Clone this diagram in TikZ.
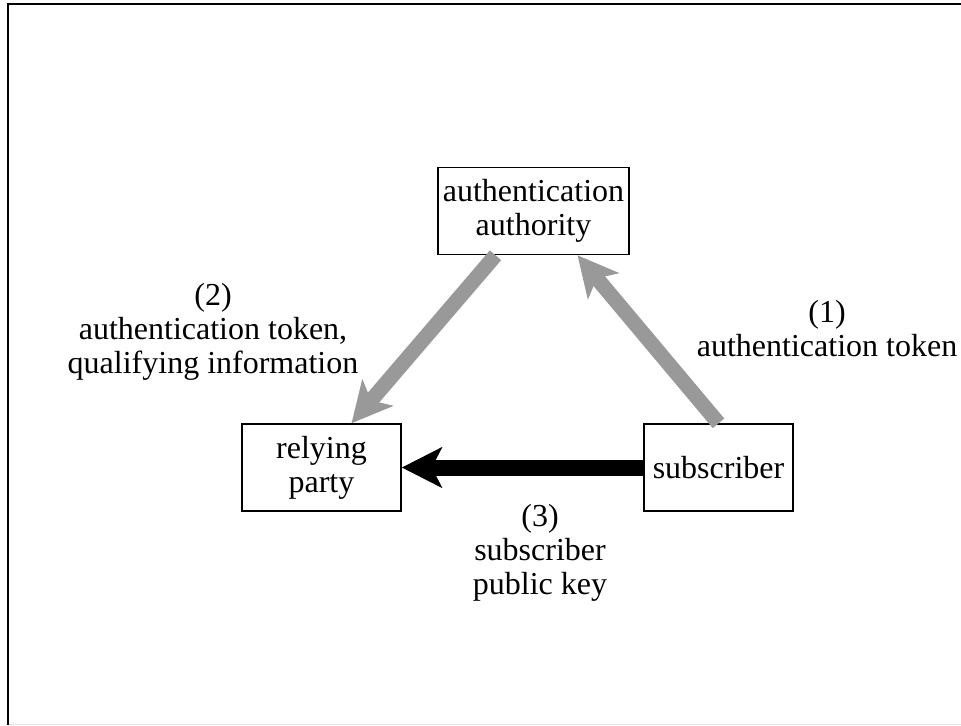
\documentclass[tikz,border=0pt]{standalone}
\usepackage{fontspec}
\setmainfont{Liberation Serif}
\usetikzlibrary{arrows.meta}
\begin{document}
\begin{tikzpicture}[x=0.5pt,y=-0.5pt,
        every node/.style={font=\fontsize{16}{17}\selectfont,align=center},
        party/.style={draw,line width=0.75pt,inner sep=0pt,minimum height=43.5pt},
        flow/.style={line width=7.5pt,draw=black!40,-{Stealth[length=20pt,width=20pt,inset=5pt]}},
        keyflow/.style={line width=8pt,draw=black,-{Stealth[length=20pt,width=20pt,inset=5pt]}}]
                \useasboundingbox (0,0) rectangle (961,725);
                \coordinate (TL) at (8,4);
                \coordinate (TR) at (961,4);
                \coordinate (BL) at (8,725);
                \coordinate (BA) at (8,724);
                \coordinate (BB) at (961,724);
                \draw[black!10,line width=0.5pt] (BA) -- (BB);
                \draw[line width=1pt] (TR) -- (TL) -- (BL);

                \node[party,minimum width=95.5pt] (auth) at (533.5, 211) {authentication\\authority};
                \node[party,minimum width=79.5pt] (rely) at (321.5, 467.5) {relying\\party};
                \node[party,minimum width=74.5pt] (sub) at (718.5, 467.5) {subscriber};

                \node (lbl2) at (213, 332) {(2)\\authentication token,\\qualifying information};
                \node (lbl1) at (827, 328.5) {(1)\\authentication token};
                \node (lbl3) at (540, 553) {(3)\\subscriber\\public key};

                \draw[flow] (sub.north) -- ([xshift=22pt]auth.south);
                \draw[flow] ([xshift=-19pt]auth.south) -- ([xshift=15pt]rely.north);
                \draw[keyflow] (sub.west) -- (rely.east);
            \end{tikzpicture}
\end{document}
